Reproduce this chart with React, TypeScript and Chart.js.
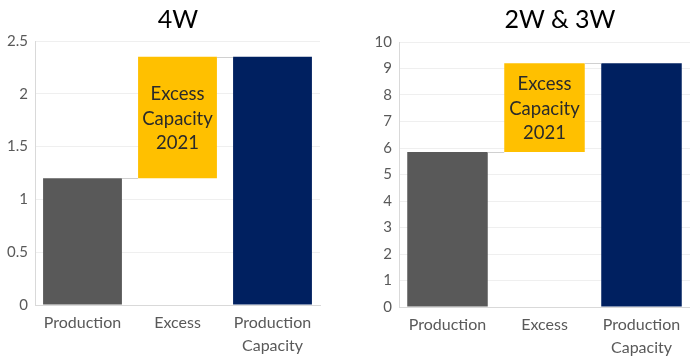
import React, { useEffect, useRef } from "react";
import { Chart, registerables } from "chart.js";
Chart.register(...registerables);

const categories = [["Production"], ["Excess"], ["Production", "Capacity"]];
const titles = ["4W", "2W & 3W"];
const production4W = 1.2;
const capacity4W = 2.35;
const production2W3W = 5.85;
const capacity2W3W = 9.2;
const yMax4W = 2.5;
const yStep4W = 0.5;
const yMax2W3W = 10;
const yStep2W3W = 1;
const excessLabel = ["Excess", "Capacity", "2021"];
const barColors = ["#595959", "#FFC000", "#002060"];

const FONT = "Lato, 'Open Sans', sans-serif";

const waterfallPlugin = {
  id: "waterfall",
  afterDatasetsDraw(chart: any) {
    const meta = chart.getDatasetMeta(0);
    const bars = meta.data;
    const ys = chart.scales.y;
    const ctx = chart.ctx;
    const d = chart.data.datasets[0].data;
    ctx.save();
    ctx.strokeStyle = "#d0d0d0";
    ctx.lineWidth = 1;
    for (let i = 0; i < bars.length - 1; i++) {
      const level = d[i][1];
      const y = Math.round(ys.getPixelForValue(level)) + 0.5;
      const x1 = bars[i].x + bars[i].width / 2;
      const x2 = bars[i + 1].x - bars[i + 1].width / 2;
      ctx.beginPath();
      ctx.moveTo(x1, y);
      ctx.lineTo(x2, y);
      ctx.stroke();
    }
    const b = bars[1];
    const cy = (b.y + b.base) / 2;
    ctx.fillStyle = "#2a2a2a";
    ctx.font = `18.5px ${FONT}`;
    ctx.textAlign = "center";
    ctx.textBaseline = "middle";
    const lh = 24.5;
    excessLabel.forEach((t, k) => {
      ctx.fillText(t, b.x, cy + 1 + (k - (excessLabel.length - 1) / 2) * lh);
    });
    ctx.restore();
  },
};

function makeConfig(prod: number, cap: number, yMax: number, step: number, yWidth: number, padTop: number, padRight: number, xHeight: number) {
  return {
    type: "bar" as const,
    data: {
      labels: categories,
      datasets: [
        {
          data: [
            [0, prod],
            [prod, cap],
            [0, cap],
          ],
          backgroundColor: barColors,
          borderWidth: 0,
          categoryPercentage: 1,
          barPercentage: 0.83,
        },
      ],
    },
    options: {
      responsive: false,
      animation: false as const,
      layout: { padding: { top: padTop, right: padRight, left: 0, bottom: 0 } },
      plugins: { legend: { display: false }, tooltip: { enabled: false }, title: { display: false } },
      scales: {
        x: {
          grid: { display: false, drawTicks: false },
          border: { color: "#d9d9d9" },
          ticks: { color: "#595959", font: { family: FONT, size: 16, lineHeight: 1.4 }, padding: 7, maxRotation: 0 },
          afterFit(scale: any) {
            scale.height = xHeight;
          },
        },
        y: {
          min: 0,
          max: yMax,
          grid: { color: "#efefef", drawTicks: false },
          border: { color: "#d9d9d9" },
          ticks: {
            stepSize: step,
            color: "#595959",
            font: { family: FONT, size: 15 },
            padding: 7,
            callback: (v: any) => String(Number(v)),
          },
          afterFit(scale: any) {
            scale.width = yWidth;
          },
        },
      },
    },
    plugins: [waterfallPlugin],
  };
}

export default function App() {
  const leftRef = useRef<HTMLCanvasElement>(null);
  const rightRef = useRef<HTMLCanvasElement>(null);
  useEffect(() => {
    const c1 = new Chart(leftRef.current as HTMLCanvasElement, makeConfig(production4W, capacity4W, yMax4W, yStep4W, 35, 41, 20, 55) as any);
    const c2 = new Chart(rightRef.current as HTMLCanvasElement, makeConfig(production2W3W, capacity2W3W, yMax2W3W, yStep2W3W, 49, 42, 0, 53) as any);
    return () => {
      c1.destroy();
      c2.destroy();
    };
  }, []);
  const titleStyle: React.CSSProperties = {
    position: "absolute",
    top: 4,
    width: 200,
    textAlign: "center",
    fontFamily: FONT,
    fontSize: 25,
    lineHeight: "28px",
    color: "#000",
  };
  return (
    <div style={{ position: "fixed", left: 0, top: 0, width: 690, height: 360, background: "#fff", overflow: "hidden" }}>
      <canvas ref={leftRef} width={340} height={360} style={{ position: "absolute", left: 0, top: 0 }} />
      <canvas ref={rightRef} width={340} height={360} style={{ position: "absolute", left: 350, top: 0 }} />
      <div style={{ ...titleStyle, left: 178 - 100 }}>{titles[0]}</div>
      <div style={{ ...titleStyle, left: 560 - 100 }}>{titles[1]}</div>
    </div>
  );
}
